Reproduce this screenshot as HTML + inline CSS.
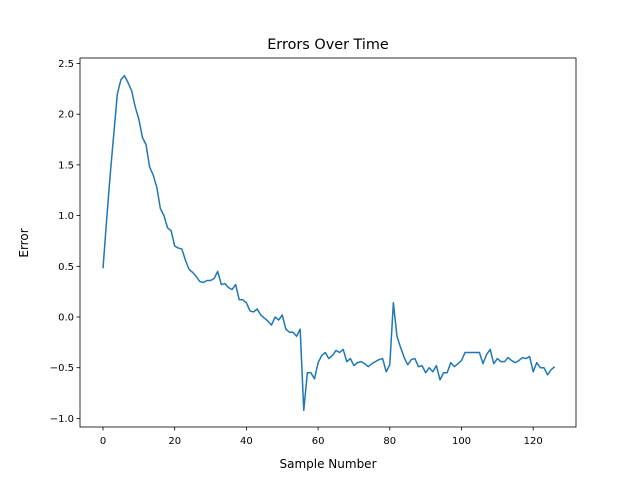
<!DOCTYPE html>
<html><head><meta charset="utf-8"><style>
body{margin:0;background:#fff;}
svg text{font-family:"DejaVu Sans","Liberation Sans",sans-serif;}
</style></head><body>
<svg id="chart" width="640" height="480" xmlns="http://www.w3.org/2000/svg">
<rect width="640" height="480" fill="#fff"/>
<text x="328" y="49" font-size="14.4" text-anchor="middle">Errors Over Time</text>
<g id="axes"></g>
<text x="328" y="468" font-size="12" text-anchor="middle">Sample Number</text>
<text transform="translate(28,243) rotate(-90)" font-size="12" text-anchor="middle">Error</text>
</svg>
<script>
const errors=[0.48,0.95,1.40,1.80,2.20,2.34,2.38,2.31,2.23,2.07,1.95,1.77,1.70,1.48,1.40,1.28,1.07,1.00,0.88,0.85,0.70,0.68,0.67,0.56,0.47,0.44,0.40,0.35,0.34,0.36,0.36,0.38,0.45,0.32,0.33,0.29,0.27,0.32,0.17,0.17,0.14,0.06,0.05,0.08,0.02,-0.01,-0.04,-0.08,0.00,-0.03,0.02,-0.12,-0.15,-0.15,-0.19,-0.12,-0.92,-0.55,-0.55,-0.61,-0.45,-0.38,-0.35,-0.41,-0.38,-0.33,-0.35,-0.32,-0.44,-0.41,-0.48,-0.45,-0.44,-0.46,-0.49,-0.46,-0.44,-0.42,-0.41,-0.54,-0.47,0.14,-0.19,-0.30,-0.40,-0.47,-0.42,-0.41,-0.49,-0.48,-0.55,-0.50,-0.54,-0.48,-0.62,-0.55,-0.55,-0.45,-0.49,-0.46,-0.43,-0.35,-0.35,-0.35,-0.35,-0.35,-0.46,-0.37,-0.32,-0.46,-0.41,-0.44,-0.44,-0.40,-0.43,-0.45,-0.43,-0.40,-0.41,-0.39,-0.54,-0.45,-0.50,-0.50,-0.57,-0.52,-0.49];
const xTicks=[0,20,40,60,80,100,120];
const yTicks=[-1.0,-0.5,0.0,0.5,1.0,1.5,2.0,2.5];
const L=80,R=576,T=58,B=427;
const xs=v=>103+v*3.585;
const ys=v=>317-v*101.4;
const NS="http://www.w3.org/2000/svg";
const g=document.getElementById('axes');
function mk(t,a,p){const e=document.createElementNS(NS,t);for(const k in a)e.setAttribute(k,a[k]);(p||g).appendChild(e);return e;}
let d=errors.map((v,i)=>(i?'L':'M')+xs(i).toFixed(2)+','+ys(v).toFixed(2)).join('');
const line=mk('path',{d:d,fill:'none',stroke:'#1f77b4','stroke-width':1.5,'stroke-linejoin':'round'});


const frame=mk('rect',{x:L,y:T,width:R-L,height:B-T,fill:'none',stroke:'#000','stroke-width':0.8});


xTicks.forEach(t=>{const x=xs(t);
 mk('line',{x1:x,x2:x,y1:B,y2:B+3.5,stroke:'#000','stroke-width':0.8});
 const tx=mk('text',{x:x,y:B+17,'font-size':10,'text-anchor':'middle'});tx.textContent=t;
 
 });
yTicks.forEach(t=>{const y=ys(t);
 mk('line',{x1:L-3.5,x2:L,y1:y,y2:y,stroke:'#000','stroke-width':0.8});
 const tx=mk('text',{x:L-6,y:y+3.5,'font-size':10,'text-anchor':'end'});tx.textContent=t.toFixed(1).replace('-','\u2212');
 
 });
</script>
</body></html>
